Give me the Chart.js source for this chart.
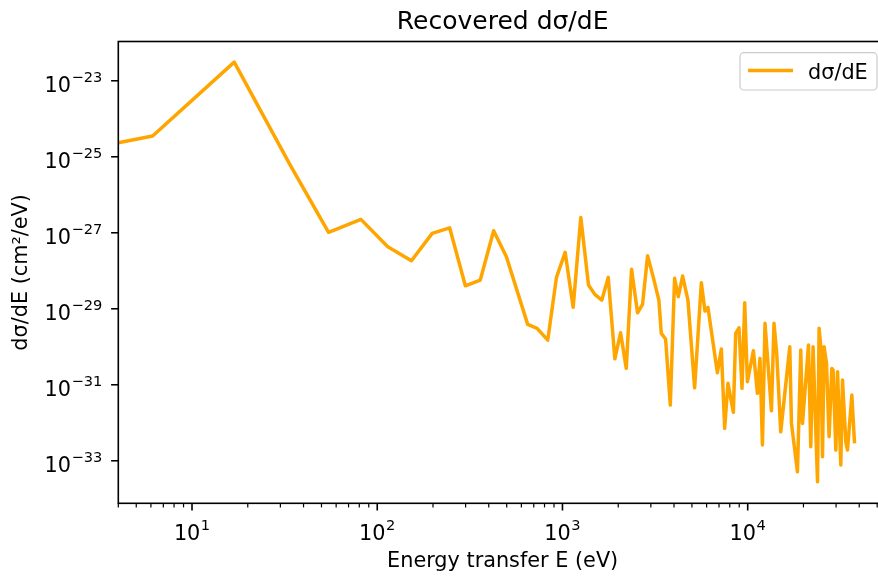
<!DOCTYPE html>
<html>
<head>
<meta charset="utf-8">
<script src="https://cdn.jsdelivr.net/npm/chart.js@4"></script>
<style>
html,body{margin:0;padding:0;overflow:hidden;background:#fff;width:878px;height:576px;}
#wrap{width:890px;height:576px;}
</style>
</head>
<body>
<div id="wrap"><canvas id="c" width="890" height="576"></canvas></div>
<script>
// ---- data ----
const energies = [4.0, 6.13, 16.9, 33.9, 54.6, 81.6, 114, 153, 198, 246,
  299, 360, 425, 498, 649, 730, 833, 928, 1034, 1142,
  1256, 1382, 1495, 1631, 1766, 1918, 2059, 2210, 2360, 2543,
  2706, 2881, 3093, 3315, 3416, 3604, 3821, 4030, 4222, 4453,
  4757, 5170, 5620, 5877, 6100, 6858, 7207, 7510, 7825, 8370,
  8613, 8974, 9316, 9634, 9963, 10735, 11280, 11650, 12010, 12400,
  13430, 13870, 14350, 15080, 16870, 17230, 18560, 19340, 19760, 21290,
  21900, 22540, 23820, 24290, 24810, 25340, 25850, 26630, 27510, 28450,
  28920, 29910, 30550, 31820, 32500, 33860, 34580, 36490, 37740];
const dsigma = [2.33e-25, 3.51e-25, 3.10e-23, 6.05e-26, 1.03e-27, 2.25e-27, 4.28e-28, 1.83e-28, 9.64e-28, 1.35e-27,
  4.03e-29, 5.69e-29, 1.13e-27, 2.33e-28, 3.88e-30, 3.05e-30, 1.50e-30, 6.70e-29, 3.05e-28, 1.09e-29,
  2.54e-27, 4.21e-29, 2.39e-29, 1.69e-29, 6.70e-29, 4.83e-31, 2.33e-30, 2.70e-31, 1.09e-28, 7.85e-30,
  1.31e-29, 2.48e-28, 6.70e-29, 1.69e-29, 2.25e-30, 1.60e-30, 2.92e-32, 6.31e-29, 2.07e-29, 7.26e-29,
  1.69e-29, 8.34e-32, 4.83e-29, 8.69e-30, 1.09e-29, 2.07e-31, 8.69e-31, 7.13e-33, 1.09e-31, 1.88e-32,
  2.25e-30, 3.16e-30, 8.04e-32, 1.44e-29, 1.20e-31, 7.85e-31, 5.94e-32, 4.95e-31, 2.59e-33, 4.13e-30,
  2.07e-32, 4.13e-30, 6.43e-31, 5.79e-33, 1.0e-30, 9.64e-33, 5.13e-34, 8.17e-31, 9.64e-33, 1.11e-30,
  2.33e-33, 1.0e-30, 2.80e-34, 3.05e-30, 1.0e-30, 1.27e-33, 1.0e-30, 3.66e-31, 4.28e-33, 2.70e-31,
  2.44e-31, 1.91e-33, 2.20e-31, 7.71e-34, 1.33e-31, 3.16e-33, 1.91e-33, 5.36e-32, 2.87e-33];
const xTickExps = [1, 2, 3, 4];
const xMinorMantissas = [2, 3, 4, 5, 6, 7, 8, 9];
const yTickExps = [-23, -25, -27, -29, -31, -33];
const xLimits = [4.0, 56500];
const yLimits = [1.08e-22, 7.6e-35];
const titleText = 'Recovered dσ/dE';
const xLabelText = 'Energy transfer E (eV)';
const yLabelText = 'dσ/dE (cm²/eV)';
const seriesLabel = 'dσ/dE';

const FONT = '"DejaVu Sans", sans-serif';
const ORANGE = '#ffa500';
const FS = 20.8;

function expStr(e){ return (e < 0 ? '\u2212' : '') + Math.abs(e); }
function drawPow(ctx, exp, x, baseY, align){
  const bf = FS + 'px ' + FONT, sf = (FS * 0.7).toFixed(1) + 'px ' + FONT;
  ctx.font = bf; const wb = ctx.measureText('10').width;
  ctx.font = sf; const es = expStr(exp); const we = ctx.measureText(es).width;
  const total = wb + we + 0.5;
  let sx = align === 'right' ? x - total : x - total / 2;
  ctx.textAlign = 'left'; ctx.textBaseline = 'alphabetic';
  ctx.font = bf; ctx.fillText('10', sx, baseY);
  ctx.font = sf; ctx.fillText(es, sx + wb + 0.5, baseY - 10);
}

const mpl = {
  id: 'mpl',
  afterDraw(chart){
    const ctx = chart.ctx, a = chart.chartArea, xs = chart.scales.x, ys = chart.scales.y;
    ctx.save();
    ctx.fillStyle = '#000'; ctx.strokeStyle = '#000';
    const xmin = xLimits[0], xmax = xLimits[1];
    for (let d = 0; d <= 4; d++){
      for (const m of xMinorMantissas){
        const v = m * Math.pow(10, d);
        if (v < xmin || v > xmax) continue;
        const px = xs.getPixelForValue(v);
        ctx.lineWidth = 1.2; ctx.beginPath(); ctx.moveTo(px, a.bottom); ctx.lineTo(px, a.bottom + 4.1); ctx.stroke();
      }
    }
    for (const e of xTickExps){
      const px = xs.getPixelForValue(Math.pow(10, e));
      ctx.lineWidth = 1.6; ctx.beginPath(); ctx.moveTo(px, a.bottom); ctx.lineTo(px, a.bottom + 7.2); ctx.stroke();
      drawPow(ctx, e, px, a.bottom + 37, 'center');
    }
    for (const e of yTickExps){
      const py = ys.getPixelForValue(Math.pow(10, e));
      ctx.lineWidth = 1.6; ctx.beginPath(); ctx.moveTo(a.left, py); ctx.lineTo(a.left - 7.2, py); ctx.stroke();
      drawPow(ctx, e, a.left - 16, py + 10.8, 'right');
    }
    ctx.lineWidth = 1.6;
    ctx.strokeRect(a.left, a.top, a.right - a.left, a.bottom - a.top);
    const cx = (a.left + a.right) / 2;
    ctx.font = '25px ' + FONT; ctx.textAlign = 'center'; ctx.textBaseline = 'alphabetic';
    ctx.fillText(titleText, cx, 29);
    ctx.font = FS + 'px ' + FONT;
    ctx.fillText(xLabelText, cx, 567);
    ctx.save();
    ctx.translate(22, (a.top + a.bottom) / 2);
    ctx.rotate(-Math.PI / 2);
    ctx.textBaseline = 'middle';
    ctx.fillText(yLabelText, 0, 0);
    ctx.restore();
    const lx = 740, ly = 52.7, lw = 137, lh = 37.3;
    ctx.beginPath();
    ctx.roundRect(lx, ly, lw, lh, 4);
    ctx.fillStyle = 'rgba(255,255,255,0.8)'; ctx.fill();
    ctx.strokeStyle = '#cccccc'; ctx.lineWidth = 1.2; ctx.stroke();
    ctx.strokeStyle = ORANGE; ctx.lineWidth = 3.5;
    ctx.beginPath(); ctx.moveTo(748, 70.5); ctx.lineTo(793, 70.5); ctx.stroke();
    ctx.fillStyle = '#000'; ctx.font = FS + 'px ' + FONT; ctx.textAlign = 'left'; ctx.textBaseline = 'alphabetic';
    ctx.fillText(seriesLabel, 808, 78.5);
    ctx.restore();
  }
};

new Chart(document.getElementById('c'), {
  type: 'line',
  data: {
    datasets: [{
      label: seriesLabel,
      data: energies.map((e, i) => ({x: e, y: dsigma[i]})),
      borderColor: ORANGE,
      backgroundColor: ORANGE,
      borderWidth: 3.5,
      pointRadius: 0,
      tension: 0,
      fill: false,
      borderJoinStyle: 'round'
    }]
  },
  options: {
    responsive: false,
    animation: false,
    events: [],
    layout: {padding: {top: 41.5, right: 3, left: 0, bottom: 0}},
    plugins: {legend: {display: false}, title: {display: false}, tooltip: {enabled: false}},
    scales: {
      x: {
        type: 'logarithmic', min: xLimits[0], max: xLimits[1],
        grid: {display: false}, border: {display: false},
        ticks: {display: false},
        afterFit(s){ s.height = 72.7; }
      },
      y: {
        type: 'logarithmic', min: yLimits[1], max: yLimits[0],
        grid: {display: false}, border: {display: false},
        ticks: {display: false},
        afterFit(s){ s.width = 118.3; }
      }
    }
  },
  plugins: [mpl]
});
</script>
</body>
</html>
